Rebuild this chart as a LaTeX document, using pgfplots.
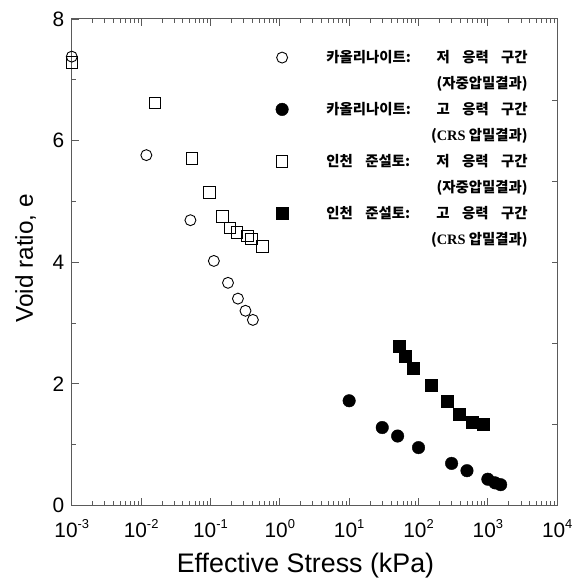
\documentclass[border=0pt]{standalone}
\usepackage{fontspec}
\setmainfont{Liberation Sans}
\newfontfamily\kr{Noto Sans CJK KR}
\newfontfamily\lser{Liberation Serif}
\usepackage{pgfplots}
\pgfplotsset{compat=1.18}
\usetikzlibrary{calc}
\definecolor{axgray}{RGB}{90,90,90}
\newcommand\la[1]{\hbox to 202bp{\spaceskip=0pt plus 1fil\relax #1}}
\newcommand\lb[1]{\hbox to 202bp{\hfil #1}}
\newcommand\tl[1]{10\raisebox{0.42em}{\fontsize{13}{13}\selectfont #1}}
\begin{document}
\begin{tikzpicture}
\begin{axis}[
  name=ax,
  scale only axis, width=487bp, height=488bp,
  xmode=log, xmin=1e-3, xmax=1e4,
  ymin=0, ymax=8,
  ytick={0,2,4,6,8}, minor ytick={1,3,5,7},
  ytick pos=left,
  xtick={1e-3,1e-2,1e-1,1,1e1,1e2,1e3,1e4},
  xticklabels={\tl{-3},\tl{-2},\tl{-1},\tl{0},\tl{1},\tl{2},\tl{3},\tl{4}},
  axis line style={axgray, line width=0.9bp},
  every tick/.style={axgray, line width=0.8bp},
  major tick length=7bp, minor tick length=4bp,
  /pgf/number format/assume math mode=true,
  yticklabel style={font=\fontsize{21}{24}\selectfont, xshift=-4bp},
  xticklabel style={font=\fontsize{21}{24}\selectfont, anchor=base, yshift=-32bp},
  xlabel={Effective Stress (kPa)},
  ylabel={Void ratio, e},
  x label style={font=\fontsize{27}{30}\selectfont, at={(axis description cs:0.4815,-0.1373)}, anchor=base},
  y label style={font=\fontsize{24.5}{28}\selectfont, at={(axis description cs:-0.0801,0.508)}, anchor=base, rotate=0},
  legend style={at={(rel axis cs:0.42,0.935)}, anchor=north west, draw=none, fill=none,
    inner sep=0pt, row sep=12.3bp, column sep=38bp,
    font=\fontsize{14.5}{16}\selectfont\bfseries\kr,
    nodes={inner sep=0pt}},
  legend cell align=left,
  legend image code/.code={\draw[#1] plot coordinates {(0bp,0bp)};},
]
\addplot[only marks, mark=o, mark size=5.5bp, black, line width=0.9bp] coordinates {
(0.001,7.38) (0.0119,5.76) (0.0514,4.69) (0.112,4.02) (0.179,3.66) (0.249,3.40) (0.32,3.20) (0.409,3.05)};
\addlegendentry{\la{카올리나이트: 저 응력 구간}}
\addlegendimage{empty legend}
\addlegendentry{\lb{(자중압밀결과)}}
\addplot[only marks, mark=*, mark size=6.3bp, black] coordinates {
(10,1.72) (30,1.28) (50,1.14) (100,0.95) (300,0.69) (500,0.57) (1000,0.43) (1270,0.37) (1530,0.34)};
\addlegendentry{\la{카올리나이트: 고 응력 구간}}
\addlegendimage{empty legend}
\addlegendentry{\lb{({\lser CRS} 압밀결과)}}
\addplot[only marks, mark=square, mark size=5.8bp, black, line width=0.9bp] coordinates {
(0.001,7.28) (0.0158,6.62) (0.0543,5.71) (0.0964,5.15) (0.150,4.75) (0.191,4.56) (0.241,4.49) (0.339,4.43) (0.391,4.38) (0.562,4.26)};
\addlegendentry{\la{인천 준설토: 저 응력 구간}}
\addlegendimage{empty legend}
\addlegendentry{\lb{(자중압밀결과)}}
\addplot[only marks, mark=square*, mark size=6bp, black] coordinates {
(53,2.61) (64.7,2.45) (85,2.25) (151,1.98) (256,1.71) (391,1.50) (594,1.36) (863,1.33)};
\addlegendentry{\la{인천 준설토: 고 응력 구간}}
\addlegendimage{empty legend}
\addlegendentry{\lb{({\lser CRS} 압밀결과)}}
\end{axis}
\begin{axis}[
  scale only axis, width=487bp, height=488bp,
  xmode=log, xmin=1e-3, xmax=1e4, hide x axis,
  ymin=0, ymax=8, axis y line*=right,
  ytick={1.3333,2.6667,4,5.3333,6.6667}, yticklabels={},
  axis line style={axgray, line width=0.9bp},
  every tick/.style={axgray, line width=0.8bp},
  major tick length=5bp,
]
\end{axis}
\path ($(ax.south west)+(-72bp,-74bp)$) rectangle ($(ax.north east)+(17bp,19bp)$);
\end{tikzpicture}
\end{document}
